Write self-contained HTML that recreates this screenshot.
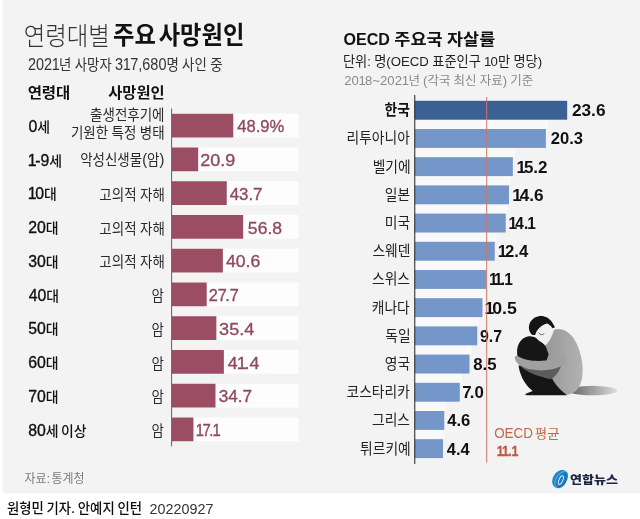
<!DOCTYPE html>
<html lang="ko"><head><meta charset="utf-8"><title>연령대별 주요 사망원인</title>
<style>html,body{margin:0;padding:0;background:#fff}body{width:640px;height:519px;overflow:hidden}</style>
</head><body>
<svg width="640" height="519" viewBox="0 0 640 519" style="display:block;font-family:'Liberation Sans', 'Noto Sans CJK KR', sans-serif">
<rect x="0" y="0" width="640" height="519" fill="#ffffff"/>
<rect x="2.6" y="0" width="637.4" height="493.3" fill="#f3f3f3"/>
<g font-weight="300" fill="#333"><text transform="translate(23.64 44.77) scale(0.9214 1)" font-size="25.40">연령대별</text></g>
<g font-weight="700" fill="#111"><text transform="translate(112.97 44.30) scale(0.9393 1)" font-size="24.80">주요 </text><text transform="translate(158.64 44.30) scale(0.9393 1)" font-size="24.80">사망원인</text></g>
<g font-weight="400" fill="#333"><text transform="translate(27.88 70.40) scale(0.8936 1)" font-size="16.20" dx="0.00 0.00 0.00 -0.32">2021</text><text transform="translate(59.07 70.40) scale(0.8936 1)" font-size="15.00">년 </text><text transform="translate(74.76 70.40) scale(0.8936 1)" font-size="15.00">사망자 </text><text transform="translate(115.11 70.40) scale(0.8936 1)" font-size="16.20" dx="0.00 -0.32 -0.81 0.00 0.00 0.00 0.00">317,680</text><text transform="translate(166.43 70.40) scale(0.8936 1)" font-size="15.00">명 </text><text transform="translate(182.12 70.40) scale(0.8936 1)" font-size="15.00">사인 </text><text transform="translate(210.13 70.40) scale(0.8936 1)" font-size="15.00">중</text></g>
<g font-weight="700" fill="#111"><text transform="translate(27.63 98.15) scale(1.0469 1)" font-size="14.80">연령대</text></g>
<g font-weight="700" fill="#111"><text transform="translate(108.24 98.15) scale(1.0372 1)" font-size="14.80">사망원인</text></g>
<rect x="172" y="113.75" width="126.5" height="23.75" fill="#fdfdfd"/>
<rect x="172" y="113.75" width="61.27" height="23.75" fill="#9b4e63"/>
<g font-weight="500" fill="#111"><text transform="translate(28.47 131.94) scale(0.9500 1)" font-size="16.68" stroke="#111" stroke-width="0.35">0</text><text transform="translate(37.29 131.94) scale(1.0000 1)" font-size="13.90">세</text></g>
<g font-weight="400" fill="#2a2a2a"><text transform="translate(90.07 119.97) scale(0.9000 1)" font-size="15.00">출생전후기에</text></g>
<g font-weight="400" fill="#2a2a2a"><text transform="translate(70.95 137.88) scale(0.9000 1)" font-size="15.00">기원한 </text><text transform="translate(111.58 137.88) scale(0.9000 1)" font-size="15.00">특정 </text><text transform="translate(139.80 137.88) scale(0.9000 1)" font-size="15.00">병태</text></g>
<g font-weight="500" fill="#8f4a5e"><text transform="translate(237.22 132.36) scale(0.9738 1)" font-size="17.06" stroke="#8f4a5e" stroke-width="0.35">48.9%</text></g>
<rect x="172" y="147.50" width="126.5" height="23.75" fill="#fdfdfd"/>
<rect x="172" y="147.50" width="26.19" height="23.75" fill="#9b4e63"/>
<g font-weight="500" fill="#111"><text transform="translate(28.47 165.69) scale(0.9500 1)" font-size="16.68" stroke="#111" stroke-width="0.35" dx="-0.67 -1.50 0.00">1-9</text><text transform="translate(49.32 165.69) scale(1.0000 1)" font-size="13.90">세</text></g>
<g font-weight="400" fill="#2a2a2a"><text transform="translate(80.14 165.10) scale(0.9000 1)" font-size="15.00">악성신생물</text><text transform="translate(142.24 165.10) scale(0.9000 1)" font-size="16.20">(</text><text transform="translate(147.09 165.10) scale(0.9000 1)" font-size="15.00">암</text><text transform="translate(159.51 165.10) scale(0.9000 1)" font-size="16.20">)</text></g>
<g font-weight="500" fill="#8f4a5e"><text transform="translate(200.35 166.11) scale(1.0533 1)" font-size="17.06" stroke="#8f4a5e" stroke-width="0.35">20.9</text></g>
<rect x="172" y="181.25" width="126.5" height="23.75" fill="#fdfdfd"/>
<rect x="172" y="181.25" width="54.76" height="23.75" fill="#9b4e63"/>
<g font-weight="500" fill="#111"><text transform="translate(28.47 199.44) scale(0.9500 1)" font-size="16.68" stroke="#111" stroke-width="0.35" dx="-0.67 -1.50">10</text><text transform="translate(44.04 199.44) scale(1.0000 1)" font-size="13.90">대</text></g>
<g font-weight="400" fill="#2a2a2a"><text transform="translate(99.36 199.85) scale(0.9000 1)" font-size="15.00">고의적 </text><text transform="translate(140.00 199.85) scale(0.9000 1)" font-size="15.00">자해</text></g>
<g font-weight="500" fill="#8f4a5e"><text transform="translate(229.72 199.86) scale(0.9880 1)" font-size="17.06" stroke="#8f4a5e" stroke-width="0.35">43.7</text></g>
<rect x="172" y="215.00" width="126.5" height="23.75" fill="#fdfdfd"/>
<rect x="172" y="215.00" width="71.17" height="23.75" fill="#9b4e63"/>
<g font-weight="500" fill="#111"><text transform="translate(28.21 233.19) scale(0.9500 1)" font-size="16.68" stroke="#111" stroke-width="0.35">20</text><text transform="translate(45.84 233.19) scale(1.0000 1)" font-size="13.90">대</text></g>
<g font-weight="400" fill="#2a2a2a"><text transform="translate(99.36 233.60) scale(0.9000 1)" font-size="15.00">고의적 </text><text transform="translate(140.00 233.60) scale(0.9000 1)" font-size="15.00">자해</text></g>
<g font-weight="500" fill="#8f4a5e"><text transform="translate(247.87 233.61) scale(1.0295 1)" font-size="17.06" stroke="#8f4a5e" stroke-width="0.35">56.8</text></g>
<rect x="172" y="248.75" width="126.5" height="23.75" fill="#fdfdfd"/>
<rect x="172" y="248.75" width="50.87" height="23.75" fill="#9b4e63"/>
<g font-weight="500" fill="#111"><text transform="translate(28.21 266.94) scale(0.9500 1)" font-size="16.68" stroke="#111" stroke-width="0.35">30</text><text transform="translate(45.84 266.94) scale(1.0000 1)" font-size="13.90">대</text></g>
<g font-weight="400" fill="#2a2a2a"><text transform="translate(99.36 267.35) scale(0.9000 1)" font-size="15.00">고의적 </text><text transform="translate(140.00 267.35) scale(0.9000 1)" font-size="15.00">자해</text></g>
<g font-weight="500" fill="#8f4a5e"><text transform="translate(225.96 267.36) scale(1.0346 1)" font-size="17.06" stroke="#8f4a5e" stroke-width="0.35">40.6</text></g>
<rect x="172" y="282.50" width="126.5" height="23.75" fill="#fdfdfd"/>
<rect x="172" y="282.50" width="34.71" height="23.75" fill="#9b4e63"/>
<g font-weight="500" fill="#111"><text transform="translate(28.74 300.69) scale(0.9500 1)" font-size="16.68" stroke="#111" stroke-width="0.35">40</text><text transform="translate(46.36 300.69) scale(1.0000 1)" font-size="13.90">대</text></g>
<g font-weight="400" fill="#2a2a2a"><text transform="translate(151.47 301.23) scale(0.9000 1)" font-size="15.00">암</text></g>
<g font-weight="500" fill="#8f4a5e"><text transform="translate(208.69 301.11) scale(0.9544 1)" font-size="17.06" stroke="#8f4a5e" stroke-width="0.35" dx="0.00 0.00 -1.71 0.00">27.7</text></g>
<rect x="172" y="316.25" width="126.5" height="23.75" fill="#fdfdfd"/>
<rect x="172" y="316.25" width="44.36" height="23.75" fill="#9b4e63"/>
<g font-weight="500" fill="#111"><text transform="translate(28.21 334.44) scale(0.9500 1)" font-size="16.68" stroke="#111" stroke-width="0.35">50</text><text transform="translate(45.84 334.44) scale(1.0000 1)" font-size="13.90">대</text></g>
<g font-weight="400" fill="#2a2a2a"><text transform="translate(151.47 334.98) scale(0.9000 1)" font-size="15.00">암</text></g>
<g font-weight="500" fill="#8f4a5e"><text transform="translate(219.10 334.86) scale(1.0596 1)" font-size="17.06" stroke="#8f4a5e" stroke-width="0.35">35.4</text></g>
<rect x="172" y="350.00" width="126.5" height="23.75" fill="#fdfdfd"/>
<rect x="172" y="350.00" width="51.87" height="23.75" fill="#9b4e63"/>
<g font-weight="500" fill="#111"><text transform="translate(28.21 368.19) scale(0.9500 1)" font-size="16.68" stroke="#111" stroke-width="0.35">60</text><text transform="translate(45.84 368.19) scale(1.0000 1)" font-size="13.90">대</text></g>
<g font-weight="400" fill="#2a2a2a"><text transform="translate(151.47 368.73) scale(0.9000 1)" font-size="15.00">암</text></g>
<g font-weight="500" fill="#8f4a5e"><text transform="translate(227.70 368.61) scale(1.0396 1)" font-size="17.06" stroke="#8f4a5e" stroke-width="0.35" dx="0.00 -0.85 -1.88 0.00">41.4</text></g>
<rect x="172" y="383.75" width="126.5" height="23.75" fill="#fdfdfd"/>
<rect x="172" y="383.75" width="43.48" height="23.75" fill="#9b4e63"/>
<g font-weight="500" fill="#111"><text transform="translate(28.21 401.94) scale(0.9500 1)" font-size="16.68" stroke="#111" stroke-width="0.35">70</text><text transform="translate(45.84 401.94) scale(1.0000 1)" font-size="13.90">대</text></g>
<g font-weight="400" fill="#2a2a2a"><text transform="translate(151.47 402.48) scale(0.9000 1)" font-size="15.00">암</text></g>
<g font-weight="500" fill="#8f4a5e"><text transform="translate(218.64 402.36) scale(1.0058 1)" font-size="17.06" stroke="#8f4a5e" stroke-width="0.35">34.7</text></g>
<rect x="172" y="417.50" width="126.5" height="23.75" fill="#fdfdfd"/>
<rect x="172" y="417.50" width="21.43" height="23.75" fill="#9b4e63"/>
<g font-weight="500" fill="#111"><text transform="translate(28.21 435.80) scale(0.9500 1)" font-size="16.68" stroke="#111" stroke-width="0.35">80</text><text transform="translate(45.84 435.80) scale(1.0000 1)" font-size="13.90">세 </text><text transform="translate(60.99 435.80) scale(1.0000 1)" font-size="13.90">이상</text></g>
<g font-weight="400" fill="#2a2a2a"><text transform="translate(151.47 436.23) scale(0.9000 1)" font-size="15.00">암</text></g>
<g font-weight="500" fill="#8f4a5e"><text transform="translate(196.51 436.11) scale(0.8696 1)" font-size="17.06" stroke="#8f4a5e" stroke-width="0.35" dx="-0.85 -1.88 -1.71 -0.85">17.1</text></g>
<rect x="171.1" y="108.5" width="1" height="337.8" fill="#606060"/>
<g font-weight="400" fill="#7c7c7c"><text transform="translate(24.40 482.65) scale(0.9657 1)" font-size="12.40">자료</text><text transform="translate(46.44 482.65) scale(0.9657 1)" font-size="13.39">: </text><text transform="translate(51.47 482.65) scale(0.9657 1)" font-size="12.40">통계청</text></g>
<g font-weight="700" fill="#111"><text transform="translate(343.60 44.50) scale(0.9290 1)" font-size="17.28">OECD </text><text transform="translate(394.35 44.50) scale(1.0930 1)" font-size="16.00">주요국 </text><text transform="translate(446.99 44.50) scale(1.0930 1)" font-size="16.00">자살률</text></g>
<g font-weight="400" fill="#222"><text transform="translate(342.93 66.20) scale(0.9787 1)" font-size="13.50">단위</text><text transform="translate(367.24 66.20) scale(0.9787 1)" font-size="13.50">: </text><text transform="translate(374.22 66.20) scale(0.9787 1)" font-size="13.50">명</text><text transform="translate(386.37 66.20) scale(0.9787 1)" font-size="13.50">(OECD </text><text transform="translate(432.25 66.20) scale(0.9787 1)" font-size="13.50">표준인구 </text><text transform="translate(484.18 66.20) scale(0.9787 1)" font-size="13.50" dx="-0.27 -0.68">10</text><text transform="translate(497.95 66.20) scale(0.9787 1)" font-size="13.50">만 </text><text transform="translate(513.41 66.20) scale(0.9787 1)" font-size="13.50">명당</text><text transform="translate(537.73 66.20) scale(0.9787 1)" font-size="13.50">)</text></g>
<g font-weight="400" fill="#8a8a8a"><text transform="translate(344.14 85.20) scale(1.0085 1)" font-size="13.02" dx="0.00 0.00 -0.26 -0.65 0.00 0.00 0.00 0.00 -0.26">2018~2021</text><text transform="translate(408.41 85.20) scale(1.0085 1)" font-size="12.40">년 </text><text transform="translate(423.04 85.20) scale(1.0085 1)" font-size="13.02">(</text><text transform="translate(427.41 85.20) scale(1.0085 1)" font-size="12.40">각국 </text><text transform="translate(453.55 85.20) scale(1.0085 1)" font-size="12.40">최신 </text><text transform="translate(479.69 85.20) scale(1.0085 1)" font-size="12.40">자료</text><text transform="translate(502.70 85.20) scale(1.0085 1)" font-size="13.02">) </text><text transform="translate(510.20 85.20) scale(1.0085 1)" font-size="12.40">기준</text></g>
<rect x="414.5" y="119.70" width="133.34" height="9.30" fill="#f9f9f9"/>
<rect x="414.5" y="100.80" width="152.69" height="18.9" fill="#3a6094"/>
<g font-weight="700" fill="#111"><text transform="translate(384.61 115.29) scale(0.9000 1)" font-size="15.30">한국</text></g>
<g font-weight="700" fill="#111"><text transform="translate(571.92 116.23) scale(1.0376 1)" font-size="16.63">23.6</text></g>
<rect x="414.5" y="147.90" width="100.34" height="9.30" fill="#f9f9f9"/>
<rect x="414.5" y="129.00" width="131.34" height="18.9" fill="#7596c9"/>
<g font-weight="400" fill="#222"><text transform="translate(346.52 143.49) scale(0.9000 1)" font-size="15.30">리투아니아</text></g>
<g font-weight="700" fill="#111"><text transform="translate(550.70 144.43) scale(0.9977 1)" font-size="16.63">20.3</text></g>
<rect x="414.5" y="176.10" width="96.46" height="9.30" fill="#f9f9f9"/>
<rect x="414.5" y="157.20" width="98.34" height="18.9" fill="#7596c9"/>
<g font-weight="400" fill="#222"><text transform="translate(372.68 171.69) scale(0.9000 1)" font-size="15.30">벨기에</text></g>
<g font-weight="700" fill="#111"><text transform="translate(517.50 172.63) scale(1.0245 1)" font-size="16.63" dx="-1.00 -2.00 0.00 0.00">15.2</text></g>
<rect x="414.5" y="204.30" width="93.23" height="9.30" fill="#f9f9f9"/>
<rect x="414.5" y="185.40" width="94.46" height="18.9" fill="#7596c9"/>
<g font-weight="400" fill="#222"><text transform="translate(384.84 200.01) scale(0.9000 1)" font-size="15.30">일본</text></g>
<g font-weight="700" fill="#111"><text transform="translate(513.25 200.83) scale(1.0320 1)" font-size="16.63" dx="-1.00 -2.00 0.00 0.00">14.6</text></g>
<rect x="414.5" y="232.50" width="82.23" height="9.30" fill="#f9f9f9"/>
<rect x="414.5" y="213.60" width="91.23" height="18.9" fill="#7596c9"/>
<g font-weight="400" fill="#222"><text transform="translate(384.84 228.09) scale(0.9000 1)" font-size="15.30">미국</text></g>
<g font-weight="700" fill="#111"><text transform="translate(509.50 229.03) scale(0.9287 1)" font-size="16.63" dx="-1.00 -2.00 0.00 -1.00">14.1</text></g>
<rect x="414.5" y="260.70" width="73.82" height="9.30" fill="#f9f9f9"/>
<rect x="414.5" y="241.80" width="80.23" height="18.9" fill="#7596c9"/>
<g font-weight="400" fill="#222"><text transform="translate(372.45 256.29) scale(0.9000 1)" font-size="15.30">스웨덴</text></g>
<g font-weight="700" fill="#111"><text transform="translate(498.75 257.23) scale(1.0040 1)" font-size="16.63" dx="-1.00 -2.00 0.00 0.00">12.4</text></g>
<rect x="414.5" y="288.90" width="69.94" height="9.30" fill="#f9f9f9"/>
<rect x="414.5" y="270.00" width="71.82" height="18.9" fill="#7596c9"/>
<g font-weight="400" fill="#222"><text transform="translate(371.99 284.49) scale(0.9000 1)" font-size="15.30">스위스</text></g>
<g font-weight="700" fill="#111"><text transform="translate(490.00 285.43) scale(0.9330 1)" font-size="16.63" dx="-1.00 -2.99 -2.00 -1.00">11.1</text></g>
<rect x="414.5" y="317.10" width="64.76" height="9.30" fill="#f9f9f9"/>
<rect x="414.5" y="298.20" width="67.94" height="18.9" fill="#7596c9"/>
<g font-weight="400" fill="#222"><text transform="translate(371.76 312.69) scale(0.9000 1)" font-size="15.30">캐나다</text></g>
<g font-weight="700" fill="#111"><text transform="translate(485.50 313.63) scale(1.0666 1)" font-size="16.63" dx="-1.00 -2.00 0.00 0.00">10.5</text></g>
<rect x="414.5" y="345.30" width="56.99" height="9.30" fill="#f9f9f9"/>
<rect x="414.5" y="326.40" width="62.76" height="18.9" fill="#7596c9"/>
<g font-weight="400" fill="#222"><text transform="translate(385.30 340.89) scale(0.9000 1)" font-size="15.30">독일</text></g>
<g font-weight="700" fill="#111"><text transform="translate(479.97 341.83) scale(0.9590 1)" font-size="16.63">9.7</text></g>
<rect x="414.5" y="373.50" width="47.29" height="9.30" fill="#f9f9f9"/>
<rect x="414.5" y="354.60" width="54.99" height="18.9" fill="#7596c9"/>
<g font-weight="400" fill="#222"><text transform="translate(384.84 369.09) scale(0.9000 1)" font-size="15.30">영국</text></g>
<g font-weight="700" fill="#111"><text transform="translate(473.14 370.03) scale(1.0101 1)" font-size="16.63">8.5</text></g>
<rect x="414.5" y="401.70" width="31.76" height="9.30" fill="#f9f9f9"/>
<rect x="414.5" y="382.80" width="45.29" height="18.9" fill="#7596c9"/>
<g font-weight="400" fill="#222"><text transform="translate(346.52 397.29) scale(0.9000 1)" font-size="15.30">코스타리카</text></g>
<g font-weight="700" fill="#111"><text transform="translate(462.16 398.23) scale(1.0121 1)" font-size="16.63" dx="0.00 -1.66 0.00">7.0</text></g>
<rect x="414.5" y="429.90" width="30.47" height="9.30" fill="#f9f9f9"/>
<rect x="414.5" y="411.00" width="29.76" height="18.9" fill="#7596c9"/>
<g font-weight="400" fill="#222"><text transform="translate(371.99 425.49) scale(0.9000 1)" font-size="15.30">그리스</text></g>
<g font-weight="700" fill="#111"><text transform="translate(447.22 426.43) scale(1.0011 1)" font-size="16.63">4.6</text></g>
<rect x="414.5" y="439.20" width="28.47" height="18.9" fill="#7596c9"/>
<g font-weight="400" fill="#222"><text transform="translate(360.06 453.69) scale(0.9000 1)" font-size="15.30">튀르키예</text></g>
<g font-weight="700" fill="#111"><text transform="translate(446.73 454.63) scale(0.9899 1)" font-size="16.63">4.4</text></g>
<rect x="414.2" y="95" width="1.1" height="369" fill="#333"/>
<rect x="486.2" y="97" width="1" height="365.7" fill="#d07560"/>
<g font-weight="400" fill="#c4654f"><text transform="translate(494.13 438.11) scale(0.9766 1)" font-size="13.72">OECD </text><text transform="translate(534.86 438.11) scale(1.0616 1)" font-size="12.70">평균</text></g>
<g font-weight="700" fill="#c0573f"><text transform="translate(496.88 455.94) scale(0.8101 1)" font-size="15.34" stroke="#c0573f" stroke-width="0.3" dx="-0.31 -1.07 -0.77 -0.31">11.1</text></g>
<g font-weight="500" fill="#0c0c0c"><text transform="translate(6.93 513.48) scale(0.9621 1)" font-size="13.90">원형민 </text><text transform="translate(46.52 513.48) scale(0.9621 1)" font-size="13.90">기자</text><text transform="translate(71.12 513.48) scale(0.9621 1)" font-size="15.01" stroke="#0c0c0c" stroke-width="0.2">. </text><text transform="translate(77.81 513.48) scale(0.9621 1)" font-size="13.90">안예지 </text><text transform="translate(117.40 513.48) scale(0.9621 1)" font-size="13.90">인턴</text></g>
<g font-weight="400" fill="#333"><text transform="translate(149.58 513.86) scale(0.9231 1)" font-size="15.55">20220927</text></g>

<defs>
<linearGradient id="shg" x1="0" y1="0" x2="1" y2="0"><stop offset="0" stop-color="#5f5f5f"/><stop offset="0.35" stop-color="#8c8c8c"/><stop offset="1" stop-color="#dcdcdc"/></linearGradient>
<linearGradient id="tg" x1="0" y1="0" x2="1" y2="0"><stop offset="0" stop-color="#979797"/><stop offset="1" stop-color="#b2b2b2"/></linearGradient>
<linearGradient id="lgg" x1="0" y1="0" x2="1" y2="1"><stop offset="0" stop-color="#2590cf"/><stop offset="1" stop-color="#146cb2"/></linearGradient>
</defs>
<g transform="translate(510 308) scale(0.17715)">
<ellipse cx="465" cy="466" rx="140" ry="27" fill="url(#shg)"/>
<path d="M232,132 C270,104 330,122 366,182 C400,240 420,330 406,400 C396,452 366,486 326,489 L215,489 L195,300 L200,200 Z" fill="url(#tg)"/>
<path d="M48,325 C58,395 95,445 128,468 L92,482 C84,486 86,492 94,492 L322,492 C292,470 252,430 236,395 L226,335 Z" fill="#161616"/>
<path d="M40,252 C38,202 68,166 104,160 C142,156 178,186 202,218 L218,262 L204,304 L62,304 C46,292 40,272 40,252 Z" fill="#161616"/>
<path d="M52,322 C100,352 200,362 288,326 C272,372 244,398 228,402 C150,384 90,362 52,322 Z" fill="#5c5c5c"/>
<path d="M28,272 C22,300 48,330 110,346 C172,358 242,352 282,332 C302,320 312,306 314,294 L300,250 C290,272 250,292 200,297 C140,302 80,297 40,268 Z" fill="#a0a0a0"/>
<path d="M138,150 C138,110 174,84 214,88 L252,112 C242,150 226,186 204,207 C178,197 150,182 138,150 Z" fill="#f0f0f0"/>
<path d="M163,141 C170,152 182,154 192,146" fill="none" stroke="#333" stroke-width="4" stroke-linecap="round"/>
<path d="M126,152 C98,130 98,80 140,54 C176,34 216,48 236,78 L254,108 L240,114 C226,96 216,90 210,88 C180,94 152,120 142,152 Z" fill="#141414"/>
</g>


<g transform="translate(546 464) scale(0.0625)">
<path d="M230,100 C290,84 346,110 351,170 C356,250 302,350 232,380 C172,402 110,372 100,292 C94,212 150,122 230,100 Z" fill="url(#lgg)"/>
<ellipse cx="238" cy="258" rx="30" ry="74" transform="rotate(24 238 258)" fill="none" stroke="#eaf6fc" stroke-width="15"/>
<path d="M326,116 C246,104 152,200 142,300 C139,340 152,368 176,380" fill="none" stroke="#9fd4ee" stroke-width="9" stroke-linecap="round"/>
</g>

<g font-weight="900" fill="#1b2440"><text transform="translate(569.95 483.79) scale(1.1159 1)" font-size="11.70">연합뉴스</text></g>
</svg>
</body></html>
